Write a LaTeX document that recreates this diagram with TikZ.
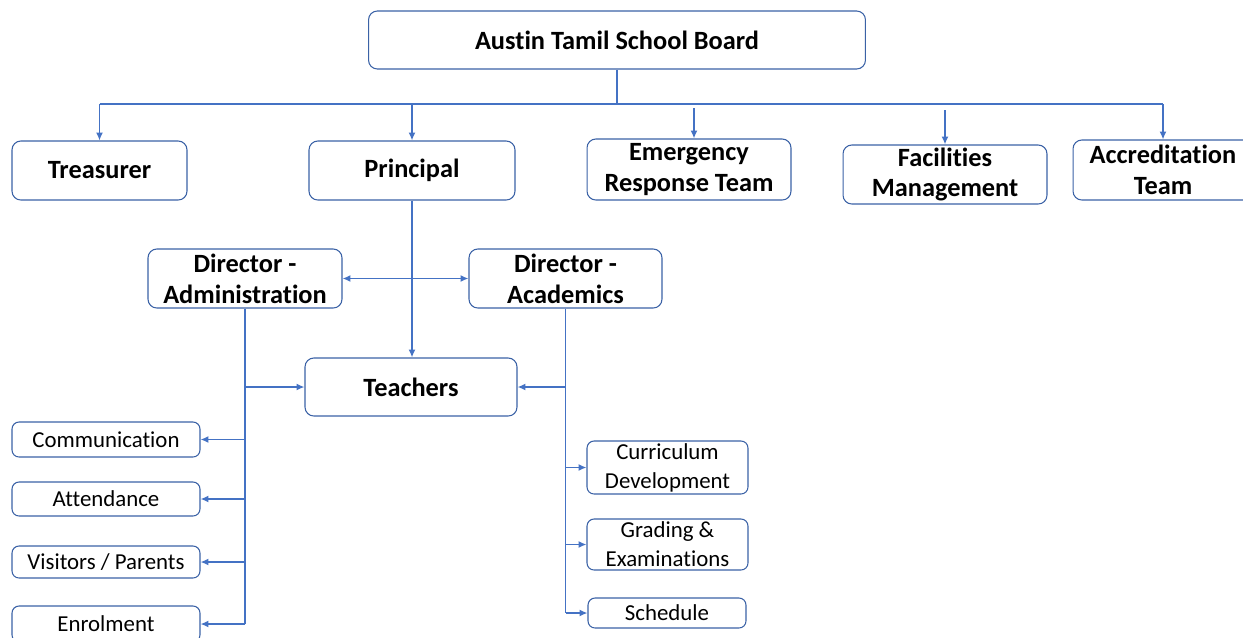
\documentclass[tikz,border=0pt]{standalone}
\usepackage{fontspec}
\setmainfont[Ligatures={NoCommon}]{Carlito}
\usetikzlibrary{arrows.meta}

\definecolor{lineblue}{HTML}{4472C4}
\definecolor{boxblue}{HTML}{3B62A6}

\tikzset{
    big/.style={font=\fontsize{15}{17.5}\selectfont\bfseries},
    small/.style={font=\fontsize{13}{16.5}\selectfont, rounded corners=4pt},
    link/.style={draw=lineblue, line width=0.9pt},
    arr/.style={link, -{Latex[length=4.5pt,width=4pt]}},
    arrboth/.style={link, {Latex[length=4.5pt,width=4pt]}-{Latex[length=4.5pt,width=4pt]}}
}

\begin{document}
\begin{tikzpicture}[x=0.02cm,y=-0.02cm]
        \useasboundingbox (0,0) rectangle (1243,637);
        \begin{scope}[every node/.style={draw=boxblue, line width=0.6pt, rounded corners=5pt, align=center, inner sep=0pt, fill=white}]
            \node[big, minimum width=9.94cm, minimum height=1.16cm] (board) at (617,40) {Austin Tamil School Board};

            \node[big, minimum width=3.5cm, minimum height=1.18cm] (treas) at (99.5,170.5) {Treasurer};
            \node[big, minimum width=4.12cm, minimum height=1.18cm] (princ) at (412,170.5) {Principal};
            \node[big, minimum width=4.08cm, minimum height=1.22cm] (emer) at (689,169.5) {Emergency\\Response Team};
            \node[big, minimum width=4.08cm, minimum height=1.18cm] (facil) at (945,174.5) {Facilities\\Management};
            \node[big, minimum width=3.6cm, minimum height=1.2cm] (accr) at (1163,170) {Accreditation\\Team};

            \node[big, minimum width=3.88cm, minimum height=1.18cm] (dadm) at (245,278.5) {Director -\\Administration};
            \node[big, minimum width=3.86cm, minimum height=1.18cm] (dacad) at (565.5,278.5) {Director -\\Academics};

            \node[big, minimum width=4.24cm, minimum height=1.16cm] (teach) at (411,387) {Teachers};

            \node[small, minimum width=3.76cm, minimum height=0.7cm] (comm) at (106,439.5) {Communication};
            \node[small, minimum width=3.76cm, minimum height=0.68cm] (atten) at (106,499) {Attendance};
            \node[small, minimum width=3.76cm, minimum height=0.64cm] (visit) at (106,562) {Visitors / Parents};
            \node[small, minimum width=3.76cm, minimum height=0.72cm] (enrol) at (106,624) {Enrolment};

            \node[small, minimum width=3.22cm, minimum height=1.06cm] (curr) at (667.5,467.5) {Curriculum\\Development};
            \node[small, minimum width=3.22cm, minimum height=1.02cm] (grade) at (667.5,544.5) {Grading \&\\Examinations};
            \node[small, minimum width=3.16cm, minimum height=0.6cm] (sched) at (667,613) {Schedule};
        \end{scope}

        % board to first row
        \coordinate (bus) at (617,104);
        \coordinate (emtop) at (694,108);
        \coordinate (fatop) at (945,110);
        \path[link] (board.south) -- (bus);
        \path[link] (treas.north |- bus) -- (accr.north |- bus);
        \path[arr] (treas.north |- bus) -- (treas.north);
        \path[arr] (princ.north |- bus) -- (princ.north);
        \path[arr] (emtop) -- (emtop |- emer.north);
        \path[arr] (fatop) -- (fatop |- facil.north);
        \path[arr] (accr.north |- bus) -- (accr.north);

        % principal and directors
        \path[arr] (princ.south) -- (princ.south |- teach.north);
        \path[arrboth] (dadm.east) -- (dacad.west);

        % administration side
        \path[link] (dadm.south) -- (dadm.south |- enrol);
        \path[arr] (dadm.south |- teach) -- (teach.west);
        \path[arr] (dadm.south |- comm) -- (comm.east);
        \path[arr] (dadm.south |- atten) -- (atten.east);
        \path[arr] (dadm.south |- visit) -- (visit.east);
        \path[arr] (dadm.south |- enrol) -- (enrol.east);

        % academics side
        \path[link] (dacad.south) -- (dacad.south |- sched);
        \path[arr] (dacad.south |- teach) -- (teach.east);
        \path[arr] (dacad.south |- curr) -- (curr.west);
        \path[arr] (dacad.south |- grade) -- (grade.west);
        \path[arr] (dacad.south |- sched) -- (sched.west);
\end{tikzpicture}
\end{document}
